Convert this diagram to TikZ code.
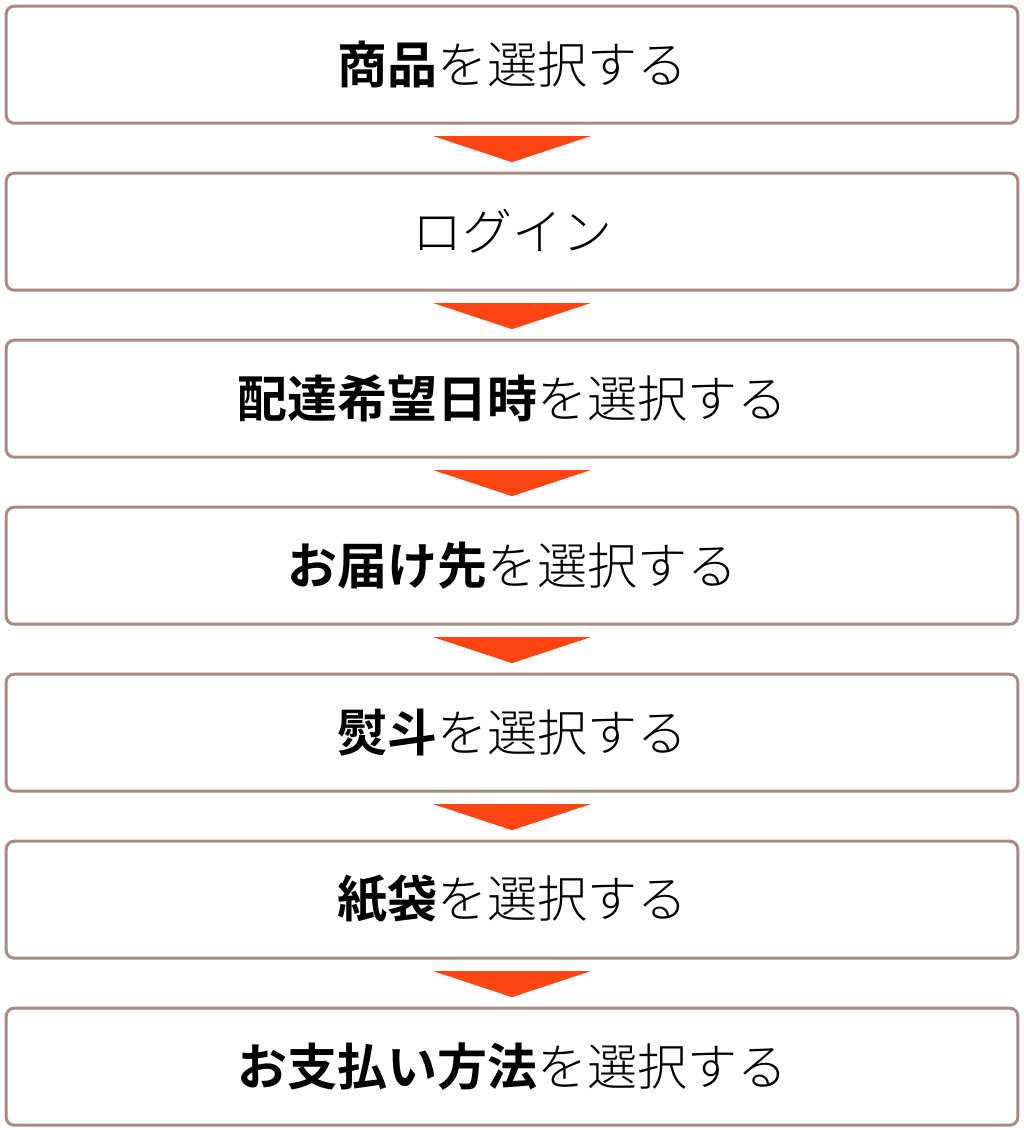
\documentclass[tikz,border=0pt]{standalone}
\usepackage{fontspec}
\setmainfont{Noto Sans CJK JP Light}
\newfontfamily\jpbold{Noto Sans CJK JP Bold}
\usetikzlibrary{calc}
\definecolor{boxline}{HTML}{A88B82}
\definecolor{arrowred}{HTML}{FC4513}
\tikzset{
	stepbox/.style={draw=boxline,line width=3pt,rounded corners=8pt,
		minimum width=1011.6pt,minimum height=117pt,outer sep=0pt,
		font=\fontsize{50}{60}\selectfont},
	downtri/.style={fill=arrowred}
}
\newcommand{\boldpart}[1]{{\jpbold #1}}
\newcommand{\downarrowbetween}[1]{%
	\fill[downtri] ($(#1.south)+(-78.5,-13)$) -- ($(#1.south)+(78.5,-13)$)
		-- ($(#1.south)+(0,-39)$) -- cycle;}
\begin{document}
\begin{tikzpicture}[x=1pt,y=1pt]
	\useasboundingbox (0,0) rectangle (1024,1130);
	\node[stepbox] (item) at (512,1065.3) {\boldpart{商品}を選択する};
	\node[stepbox] (login) at (512,898.3) {ログイン};
	\node[stepbox] (date) at (512,731.3) {\boldpart{配達希望日時}を選択する};
	\node[stepbox] (dest) at (512,564.3) {\boldpart{お届け先}を選択する};
	\node[stepbox] (noshi) at (512,397.3) {\boldpart{熨斗}を選択する};
	\node[stepbox] (bag) at (512,230.3) {\boldpart{紙袋}を選択する};
	\node[stepbox] (pay) at (512,63.3) {\boldpart{お支払い方法}を選択する};
	% arrows between the steps
	\downarrowbetween{item}
	\downarrowbetween{login}
	\downarrowbetween{date}
	\downarrowbetween{dest}
	\downarrowbetween{noshi}
	\downarrowbetween{bag}
\end{tikzpicture}
\end{document}
